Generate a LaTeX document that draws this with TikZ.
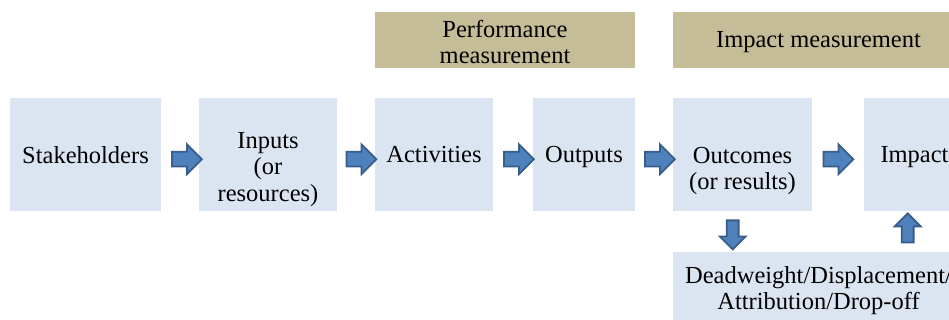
\documentclass[tikz,border=0pt]{standalone}
\usepackage{fontspec}
\setmainfont{Liberation Serif}
\usetikzlibrary{shapes.arrows,calc}
\definecolor{boxblue}{HTML}{DBE5F1}
\definecolor{tanbox}{HTML}{C4BD97}
\definecolor{arrfill}{HTML}{4F81BD}
\definecolor{arrdraw}{HTML}{385D8A}
\begin{document}
\begin{tikzpicture}[x=1pt,y=-1pt,
  box/.style={fill=boxblue, draw=none, inner sep=0pt, anchor=north west},
  tbox/.style={fill=tanbox, draw=none, inner sep=0pt, anchor=north west},
  txt/.style={inner sep=0pt, align=center, font=\fontsize{24.5}{26.5}\selectfont},
  harr/.style={single arrow, fill=arrfill, draw=arrdraw, line width=1.8pt,
    inner xsep=0pt, inner ysep=6.5pt, single arrow head extend=7.5pt,
    minimum height=30pt, minimum width=0pt},
  varr/.style={single arrow, fill=arrfill, draw=arrdraw, line width=1.8pt,
    inner xsep=5pt, inner ysep=0pt, single arrow head extend=7pt,
    minimum height=29pt, minimum width=0pt}
]
\useasboundingbox (0,0) rectangle (949,320);
\clip (0,0) rectangle (949,320);

% main boxes
\node[box, minimum width=151pt, minimum height=113pt] (stake) at (10,98) {};
\node[box, minimum width=138pt, minimum height=113pt] (inp) at (199,98) {};
\node[box, minimum width=118pt, minimum height=113pt] (act) at (375,98) {};
\node[box, minimum width=102pt, minimum height=113pt] (outp) at (533,98) {};
\node[box, minimum width=139pt, minimum height=113pt] (outc) at (673,98) {};
\node[box, minimum width=101pt, minimum height=113pt] (imp) at (864,98) {};

% top boxes
\node[tbox, minimum width=260pt, minimum height=56pt] (perf) at (375,12) {};
\node[tbox, minimum width=291pt, minimum height=56pt] (impm) at (673,12) {};

% bottom box
\node[box, minimum width=291pt, minimum height=80pt] (dead) at (673,252) {};

% texts
\node[txt, anchor=base] (tstake) at (85.5,163.5) {Stakeholders};
\node[txt] (tinp) at (268,169.5) {Inputs\\(or\\resources)};
\node[txt, anchor=base] (tact) at (434,162.5) {Activities};
\node[txt, anchor=base] (toutp) at (584,162.5) {Outputs};
\node[txt] (toutc) at (742.5,171) {Outcomes\\(or results)};
\node[txt, anchor=base] (timp) at (914.5,163) {Impact};
\node[txt] (tperf) at (505,42) {Performance\\measurement};
\node[txt, anchor=base] (timpm) at (818.5,47.5) {Impact measurement};
\node[txt] (tdead) at (818.5,290.5) {Deadweight/Displacement/\\Attribution/Drop-off};

% block arrows
\node[harr] (a1) at ($(stake.east)!0.5!(inp.west)+(3,4.5)$) {};
\node[harr] (a2) at ($(inp.east)!0.5!(act.west)+(1.5,4.5)$) {};
\node[harr] (a3) at ($(act.east)!0.5!(outp.west)+(2,4.5)$) {};
\node[harr] (a4) at ($(outp.east)!0.5!(outc.west)+(2,4.5)$) {};
\node[harr] (a5) at ($(outc.east)!0.5!(imp.west)+(-3.5,4.5)$) {};
\node[varr, shape border rotate=270] (d1) at ($(outc.south)+(-10,20.5)$) {};
\node[varr, shape border rotate=90] (u1) at ($(imp.south)+(-7,19.5)$) {};
\end{tikzpicture}
\end{document}
